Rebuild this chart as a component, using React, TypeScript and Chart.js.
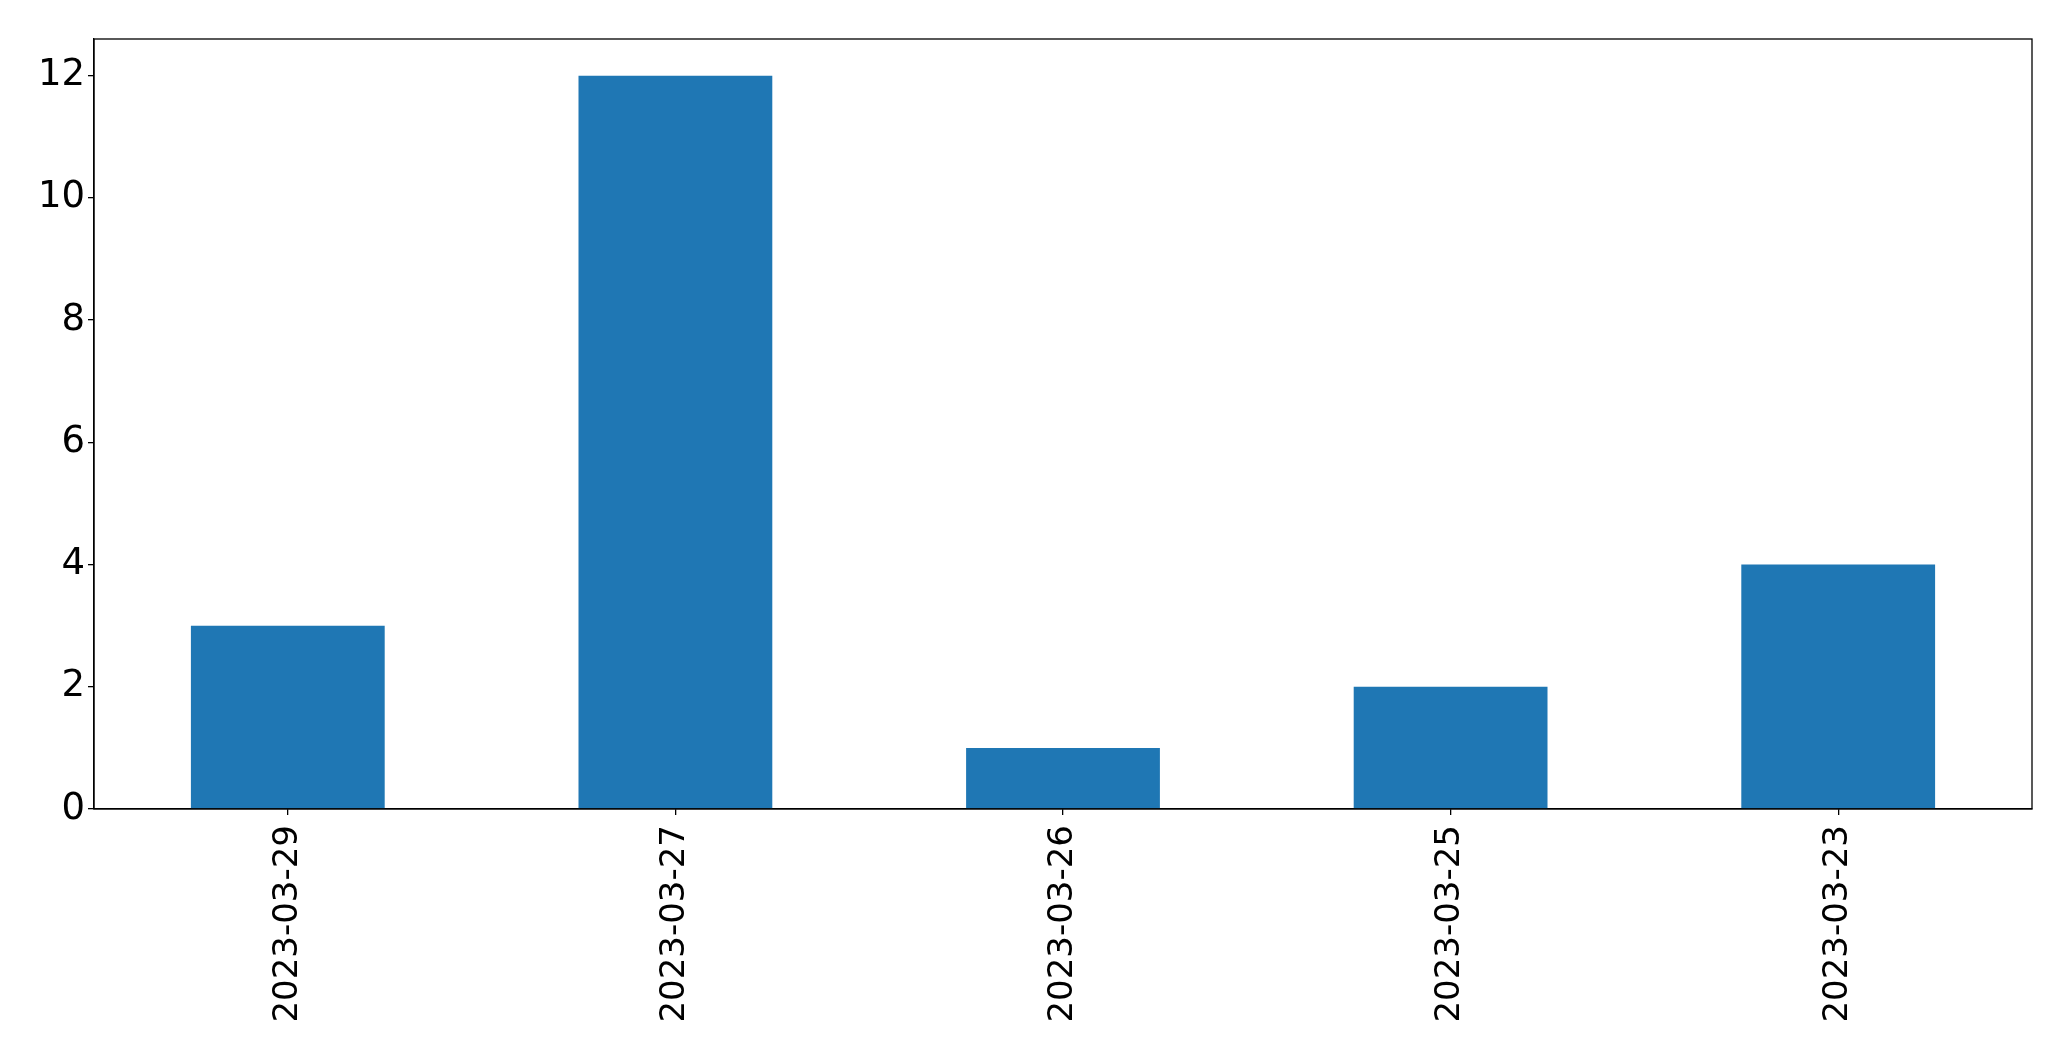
import React, { useEffect, useRef } from "react";
import { Chart, registerables } from "chart.js";

Chart.register(...registerables);

const categories = ["2023-03-29", "2023-03-27", "2023-03-26", "2023-03-25", "2023-03-23"];
const values = [3, 12, 1, 2, 4];
const yTicks = [0, 2, 4, 6, 8, 10, 12];
const yMax = 12.6;

const W = 2071;
const H = 1061;

const frame = {
  id: "frame",
  afterDraw(chart: any) {
    const { ctx, chartArea } = chart;
    ctx.save();
    ctx.strokeStyle = "#000";
    ctx.lineWidth = 1.3;
    ctx.strokeRect(chartArea.left, chartArea.top, chartArea.right - chartArea.left, chartArea.bottom - chartArea.top);
    ctx.restore();
  },
};

export default function App() {
  const ref = useRef<HTMLCanvasElement | null>(null);
  useEffect(() => {
    document.body.style.margin = "0";
    const c = ref.current!;
    const chart = new Chart(c, {
      type: "bar",
      data: {
        labels: categories,
        datasets: [
          {
            data: values,
            backgroundColor: "#1f77b4",
            borderWidth: 0,
            categoryPercentage: 0.5,
            barPercentage: 1,
          },
        ],
      },
      options: {
        animation: false,
        responsive: false,
        devicePixelRatio: 1,
        layout: { padding: { left: 0, top: 39, right: 39, bottom: 0 } },
        plugins: { legend: { display: false }, tooltip: { enabled: false } },
        scales: {
          x: {
            offset: true,
            grid: { display: true, offset: false, drawOnChartArea: false, drawTicks: true, tickLength: 6, color: "#000", lineWidth: 1.3 },
            border: { display: true, color: "#000", width: 1.3 },
            ticks: {
              minRotation: 90,
              maxRotation: 90,
              autoSkip: false,
              padding: 10,
              color: "#000",
              font: { family: "DejaVu Sans", size: 34 },
            },
            afterFit: (s: any) => {
              s.height = 252;
            },
          },
          y: {
            min: 0,
            max: yMax,
            grid: { display: true, drawOnChartArea: false, drawTicks: true, tickLength: 6, color: "#000", lineWidth: 1.3 },
            border: { display: true, color: "#000", width: 1.3 },
            ticks: {
              padding: 3,
              color: "#000",
              font: { family: "DejaVu Sans", size: 37 },
            },
            afterBuildTicks: (s: any) => {
              s.ticks = yTicks.map((v) => ({ value: v }));
            },
            afterFit: (s: any) => {
              s.width = 94;
            },
          },
        },
      },
      plugins: [frame],
    });
    return () => chart.destroy();
  }, []);
  return (
    <div style={{ width: W, height: H, background: "#fff" }}>
      <canvas ref={ref} width={W} height={H} style={{ display: "block" }} />
    </div>
  );
}
